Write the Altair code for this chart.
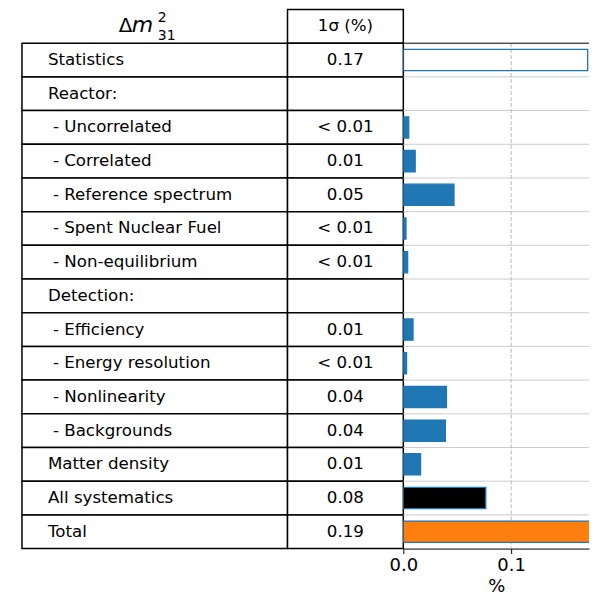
import altair as alt
import pandas as pd

LABELS = [
    "Statistics",
    "Reactor:",
    "- Uncorrelated",
    "- Correlated",
    "- Reference spectrum",
    "- Spent Nuclear Fuel",
    "- Non-equilibrium",
    "Detection:",
    "- Efficiency",
    "- Energy resolution",
    "- Nonlinearity",
    "- Backgrounds",
    "Matter density",
    "All systematics",
    "Total",
]
INDENTED = [False, False, True, True, True, True, True, False,
            True, True, True, True, False, False, False]
VALUE_TEXT = ["0.17", "", "< 0.01", "0.01", "0.05", "< 0.01", "< 0.01", "",
              "0.01", "< 0.01", "0.04", "0.04", "0.01", "0.08", "0.19"]
BAR_VALUES = [0.171, None, 0.005, 0.011, 0.047, 0.0025, 0.004, None,
              0.009, 0.003, 0.040, 0.039, 0.016, 0.0765, 0.19]
BAR_KIND = ["Statistics", None, "Systematic", "Systematic", "Systematic", "Systematic",
            "Systematic", None, "Systematic", "Systematic", "Systematic", "Systematic",
            "Systematic", "All systematics", "Total"]
KINDS = ["Statistics", "Systematic", "All systematics", "Total"]
KIND_FILL = ["rgba(0,0,0,0)", "#1f77b4", "#000000", "#ff7f0e"]
HEADER_KEY = "__header__"
VALUE_HEADER = "1σ (%)"
X_TICKS = [0.0, 0.1]

FONT = "DejaVu Sans"
FS = 16.7
ROW_H = 33.75
N_ROWS = len(LABELS) + 1
H = ROW_H * N_ROWS
W_LABEL = 266
W_VALUE = 116
W_BAR = 186
XMAX = W_BAR / 1080.0

ROW_DOMAIN = [HEADER_KEY] + LABELS

rows = pd.DataFrame({"row": LABELS, "indent": INDENTED, "value_text": VALUE_TEXT,
                     "bar": BAR_VALUES, "kind": BAR_KIND})
header = pd.DataFrame({"row": [HEADER_KEY], "value_text": [VALUE_HEADER]})
all_rows = pd.concat([header, rows[["row", "value_text"]]], ignore_index=True)

yscale = alt.Scale(domain=ROW_DOMAIN, paddingInner=0, paddingOuter=0)
y_enc = alt.Y("row:N", scale=yscale, axis=None)

# ---------- label column ----------
cells1 = alt.Chart(rows).mark_rect(fill="white", stroke="black", strokeWidth=1.5).encode(
    y=y_enc, x=alt.value(0), x2=alt.value(W_LABEL))
text_main = alt.Chart(rows).transform_filter("!datum.indent").mark_text(
    align="left", baseline="middle", font=FONT, fontSize=FS, color="black").encode(
    y=y_enc, x=alt.value(26), text="row:N")
text_sub = alt.Chart(rows).transform_filter("datum.indent").mark_text(
    align="left", baseline="middle", font=FONT, fontSize=FS, color="black").encode(
    y=y_enc, x=alt.value(31), text="row:N")
hdr = alt.Chart(header)
t_delta = hdr.mark_text(text="Δ", align="left", baseline="alphabetic", font=FONT, fontSize=20,
                        dy=6, color="black").encode(y=y_enc, x=alt.value(97))
t_m = hdr.mark_text(text="m", align="left", baseline="alphabetic", font=FONT, fontSize=22,
                    fontStyle="italic", dy=6, color="black").encode(y=y_enc, x=alt.value(110))
t_sup = hdr.mark_text(text="2", align="left", baseline="alphabetic", font=FONT, fontSize=14,
                      dy=-4, color="black").encode(y=y_enc, x=alt.value(136))
t_sub = hdr.mark_text(text="31", align="left", baseline="alphabetic", font=FONT, fontSize=14,
                      dy=14, color="black").encode(y=y_enc, x=alt.value(136))
p1 = alt.layer(cells1, text_main, text_sub, t_delta, t_m, t_sup, t_sub).properties(
    width=W_LABEL, height=H)

# ---------- value column ----------
cells2 = alt.Chart(all_rows).mark_rect(fill="white", stroke="black", strokeWidth=1.5).encode(
    y=y_enc, x=alt.value(0), x2=alt.value(W_VALUE))
text2 = alt.Chart(all_rows).mark_text(align="center", baseline="middle", font=FONT, fontSize=FS,
                                      color="black").encode(y=y_enc, x=alt.value(W_VALUE / 2),
                                                            text="value_text:N")
p2 = alt.layer(cells2, text2).properties(width=W_VALUE, height=H)

# ---------- bar panel ----------
xscale = alt.Scale(domain=[0, XMAX], nice=False, zero=True)
xaxis = alt.Axis(values=X_TICKS, format=".1f", title="%", grid=False, labelFlush=False,
                 domainColor="black", domainWidth=1, tickColor="black", tickSize=5, tickWidth=1,
                 labelFont=FONT, labelFontSize=18, labelColor="black", labelPadding=3,
                 titleFont=FONT, titleFontSize=18, titleFontWeight="normal", titleColor="black",
                 titlePadding=3)
y_start = alt.Y("row:N", scale=yscale, axis=None, bandPosition=0)

grid_h = alt.Chart(rows).transform_filter(alt.datum.row != "Statistics").mark_rule(
    color="#cccccc", strokeWidth=1).encode(y=y_start)
top_spine = alt.Chart(rows).transform_filter(alt.datum.row == "Statistics").mark_rule(
    color="black", strokeWidth=1).encode(y=y_start)
grid_v = alt.Chart(pd.DataFrame({"t": [X_TICKS[1]]})).mark_rule(
    color="#b8b8b8", strokeWidth=1, strokeDash=[4, 2]).encode(
    x=alt.X("t:Q", scale=xscale, axis=xaxis), y=alt.value(ROW_H), y2=alt.value(H))
bars = alt.Chart(rows).transform_filter("isValid(datum.bar)").mark_bar(
    height=alt.RelativeBandSize(band=0.63), clip=True, stroke="#1f77b4", strokeWidth=1.3).encode(
    x=alt.X("bar:Q", scale=xscale, axis=xaxis),
    y=y_enc,
    fill=alt.Fill("kind:N", scale=alt.Scale(domain=KINDS, range=KIND_FILL), legend=None),
)
p3 = alt.layer(grid_h, grid_v, bars, top_spine).properties(width=W_BAR, height=H)

chart = alt.hconcat(p1, p2, p3, spacing=0, bounds="flush").properties(
    padding={"left": 13, "top": 0, "right": 0, "bottom": 0}
).configure_view(strokeWidth=0)

chart.save("out.html", embed_options={"renderer": "svg", "actions": False})
